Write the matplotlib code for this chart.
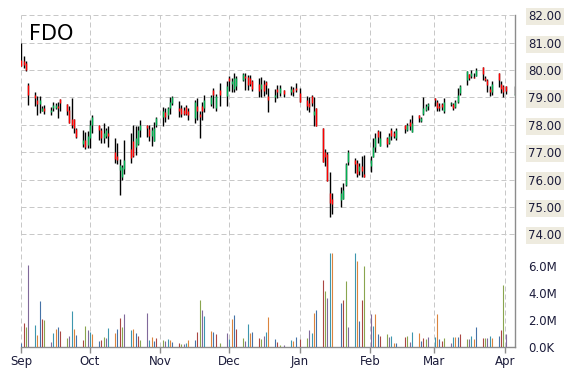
import matplotlib
matplotlib.use("Agg")
import matplotlib.pyplot as plt
import matplotlib.dates as mdates
import matplotlib.ticker as mticker
import numpy as np
import pandas as pd

# ---------------- data ----------------
symbol = "FDO"
holidays = ["2014-11-27", "2014-12-25", "2015-01-01", "2015-01-19", "2015-02-16"]
trade_dates = [d for d in pd.bdate_range("2014-09-02", "2015-04-02")
               if d.strftime("%Y-%m-%d") not in holidays] + [pd.Timestamp("2015-04-06")]

open_ = [
    # Sep
    80.37, 80.32, 80.26, 79.46, 79.10, 78.90, 78.75, 78.52, 78.60, 78.45, 78.60, 78.60, 78.70, 78.93,
    78.77, 78.55, 78.20, 78.20, 77.85, 77.30, 77.45,
    # Oct
    77.25, 77.50, 78.00, 77.98, 77.80, 77.50, 77.60, 77.70, 77.00, 76.85, 76.34, 76.10, 76.40, 77.13,
    77.40, 77.20, 77.30, 77.80, 77.99, 77.85, 77.60, 77.42, 78.00,
    # Nov
    78.30, 78.45, 78.35, 78.60, 78.80, 78.60, 78.60, 78.55, 78.65, 78.50, 78.24, 78.70, 78.40, 78.67,
    78.60, 78.75, 79.28, 78.60, 79.28,
    # Dec
    79.04, 79.70, 79.50, 79.30, 79.40, 79.65, 79.80, 79.75, 79.70, 79.60, 79.50, 79.30, 79.50, 79.55,
    79.04, 79.00, 79.30, 79.15, 79.28, 79.20, 79.30, 79.35,
    # Jan
    79.16, 78.90, 78.80, 79.04, 78.37, 78.60, 77.90, 77.02, 76.95, 75.50, 75.30, 75.26, 75.30, 75.80,
    76.65, 76.70, 76.60, 76.30, 76.50, 76.20,
    # Feb
    76.50, 76.84, 77.20, 77.76, 77.24, 77.50, 77.35, 77.80, 77.70, 77.50, 78.00, 77.82, 78.10, 77.72,
    78.37, 78.15, 78.40, 78.55, 78.70,
    # Mar
    78.98, 78.85, 78.70, 78.75, 78.50, 78.75, 78.75, 78.65, 78.85, 79.15, 79.65, 79.85, 79.80, 79.75,
    79.80, 80.10, 79.70, 79.65, 79.30, 79.20, 79.91, 79.50,
    # Apr
    79.40, 79.43, 79.10,
]
high = [
    81.00, 80.50, 80.32, 79.52, 79.18, 79.06, 79.04, 78.67, 78.73, 78.65, 78.82, 78.79, 78.82, 78.95,
    78.77, 78.70, 78.98, 78.20, 77.88, 77.82, 77.72,
    77.76, 78.18, 78.37, 78.00, 77.88, 78.06, 77.88, 77.96, 77.50, 77.34, 76.74, 76.52, 77.46, 77.70,
    77.99, 77.94, 77.95, 78.17, 77.99, 77.99, 77.93, 78.10, 78.30,
    78.66, 78.60, 78.66, 79.00, 79.05, 78.88, 78.73, 78.66, 78.74, 78.60, 78.91, 78.98, 78.49, 78.85,
    79.10, 79.10, 79.34, 79.12, 79.52,
    79.59, 79.77, 79.71, 79.89, 79.77, 79.89, 79.89, 79.83, 79.83, 79.65, 79.71, 79.74, 79.65, 79.61,
    79.34, 79.30, 79.46, 79.46, 79.28, 79.43, 79.38, 79.52,
    79.34, 79.04, 79.00, 79.10, 79.00, 78.61, 77.90, 77.11, 76.99, 76.29, 75.50, 75.74, 75.87, 76.60,
    77.09, 76.80, 76.72, 76.60, 76.85, 76.90,
    76.87, 77.51, 77.70, 77.82, 77.76, 77.57, 77.70, 77.88, 77.76, 77.90, 78.00, 78.05, 78.20, 78.37,
    78.37, 78.30, 79.01, 78.77, 78.80,
    78.98, 78.91, 78.79, 78.79, 78.98, 78.85, 78.79, 78.91, 79.34, 79.46, 79.95, 79.87, 80.01, 79.90,
    80.07, 80.10, 79.77, 79.67, 79.40, 79.59, 79.91, 79.61,
    79.46, 79.43, 79.43,
]
low = [
    80.13, 80.07, 79.98, 78.73, 78.70, 78.37, 78.43, 78.49, 78.39, 78.34, 78.49, 78.57, 78.24, 78.49,
    78.37, 78.06, 77.88, 77.70, 77.51, 77.20, 77.11,
    77.15, 77.15, 77.70, 77.45, 77.33, 77.33, 77.50, 77.20, 76.59, 76.55, 75.43, 76.00, 76.22, 76.59,
    76.83, 76.90, 77.26, 77.56, 77.56, 77.41, 77.22, 77.40, 77.93,
    77.95, 78.10, 78.20, 78.39, 78.72, 78.30, 78.30, 78.35, 78.35, 78.17, 78.06, 78.18, 77.51, 78.18,
    78.45, 78.67, 78.60, 78.49, 78.67,
    78.67, 79.22, 79.20, 79.18, 79.28, 79.59, 79.26, 79.26, 79.43, 79.22, 79.01, 79.00, 79.04, 79.13,
    78.45, 78.85, 78.98, 79.04, 79.01, 79.10, 79.04, 79.18,
    78.85, 78.55, 78.46, 78.67, 77.96, 77.94, 76.63, 76.50, 75.93, 74.65, 74.75, 75.01, 75.30, 75.77,
    76.54, 76.25, 76.10, 76.15, 76.10, 76.08,
    76.26, 76.84, 77.02, 77.33, 77.24, 77.20, 77.29, 77.45, 77.50, 77.45, 77.70, 77.78, 77.82, 77.72,
    78.09, 78.09, 78.37, 78.49, 78.55,
    78.70, 78.49, 78.49, 78.55, 78.43, 78.67, 78.55, 78.60, 78.79, 79.10, 79.46, 79.65, 79.71, 79.70,
    79.77, 79.65, 79.59, 79.18, 79.04, 79.10, 79.38, 79.16,
    79.01, 79.13, 79.10,
]
close = [
    80.13, 80.20, 80.01, 79.10, 78.98, 78.75, 78.90, 78.62, 78.50, 78.55, 78.72, 78.74, 78.60, 78.80,
    78.49, 78.06, 78.00, 77.88, 77.55, 77.45, 77.20,
    77.60, 78.00, 78.30, 77.80, 77.50, 77.70, 77.80, 77.60, 76.75, 76.70, 76.52, 76.45, 76.70, 76.77,
    76.85, 77.50, 77.80, 78.00, 77.87, 77.60, 77.80, 77.87, 78.25,
    78.50, 78.30, 78.60, 78.85, 79.00, 78.50, 78.40, 78.40, 78.40, 78.35, 78.85, 78.50, 78.30, 78.49,
    78.90, 79.00, 79.10, 79.04, 79.10,
    79.40, 79.59, 79.60, 79.70, 79.70, 79.85, 79.70, 79.45, 79.50, 79.30, 79.25, 79.50, 79.25, 79.45,
    78.92, 79.10, 79.20, 79.35, 79.13, 79.30, 79.20, 79.26,
    78.85, 78.70, 78.65, 78.80, 78.50, 77.95, 76.65, 76.84, 75.95, 75.16, 75.10, 75.50, 75.62, 76.55,
    77.00, 76.55, 76.20, 76.50, 76.30, 76.10,
    76.70, 77.20, 77.50, 77.55, 77.50, 77.30, 77.60, 77.60, 77.60, 77.80, 77.85, 77.98, 77.95, 78.06,
    78.25, 78.25, 78.60, 78.70, 78.75,
    78.90, 78.60, 78.60, 78.65, 78.85, 78.80, 78.60, 78.85, 79.10, 79.40, 79.95, 79.70, 79.90, 79.72,
    80.00, 79.85, 79.65, 79.45, 79.20, 79.50, 79.65, 79.30,
    79.20, 79.25, 79.12,
]
volume_m = [
    0.30, 1.75, 1.46, 6.07, 1.63, 0.89, 3.40, 2.07, 2.00, 0.40, 1.06, 1.31, 1.46, 1.21, 0.69, 0.81,
    2.69, 1.33, 0.89, 0.52, 1.56,
    1.26, 1.09, 0.96, 0.44, 0.52, 0.72, 0.67, 1.38, 1.01, 1.33, 2.12, 1.46, 2.44, 1.26, 1.31, 1.01,
    0.84, 0.52, 2.54, 0.52, 0.72, 0.47, 0.64,
    0.52, 0.47, 0.57, 0.52, 0.40, 0.30, 0.22, 0.22, 0.32, 0.52, 0.52, 1.14, 3.48, 2.74, 2.30, 1.21,
    1.11, 0.96, 0.32,
    1.01, 0.60, 2.07, 2.37, 1.33, 0.64, 0.44, 1.70, 1.06, 1.11, 0.64, 0.60, 0.81, 1.11, 2.22, 0.60,
    0.37, 0.15, 0.15, 0.52, 0.44, 0.72,
    0.60, 0.69, 1.26, 1.06, 2.54, 2.74, 4.96, 4.17, 3.63, 6.99, 6.99, 3.28, 3.48, 4.89, 1.51, 6.99,
    6.40, 1.95, 3.48, 6.00,
    2.44, 1.56, 2.44, 0.96, 0.81, 0.96, 0.77, 0.81, 0.32, 0.32, 0.77, 0.81, 0.40, 1.14, 1.06, 0.44,
    0.69, 0.62, 0.77,
    0.77, 2.44, 0.57, 0.47, 0.69, 0.32, 0.77, 0.77, 0.77, 0.96, 0.62, 0.62, 0.81, 0.62, 1.46, 0.69,
    0.69, 0.69, 0.81, 0.69, 0.81, 1.26,
    4.59, 0.96, 0.10,
]
price_ticks = [74, 75, 76, 77, 78, 79, 80, 81, 82]
volume_ticks = [0, 2, 4, 6]

# ---------------- styling ----------------
palette = ["#4572A7", "#AA4643", "#89A54E", "#80699B", "#3D96AE", "#DB843D"]
up_color, down_color = "#00b050", "#ff0000"
text_color = "#1b1b3a"
grid_color = "#c8c8c8"
axis_color = "#8c8c8c"

W, H = 570, 370
fig = plt.figure(figsize=(W / 100, H / 100), dpi=100)
fig.patch.set_facecolor("white")
left_px, right_px, top_px, bottom_px = 21, 515, 15.3, 347
ax = fig.add_axes([left_px / W, 1 - bottom_px / H, (right_px - left_px) / W, (bottom_px - top_px) / H])

o = np.array(open_); h = np.array(high); l = np.array(low); c = np.array(close)
v = np.array(volume_m)
# timestamps are plotted shifted back (exchange-local offset)
x = mdates.date2num(pd.DatetimeIndex(trade_dates)) - 0.8

px_per_dollar = 27.375
ax.set_ylim(82 - (bottom_px - top_px) / px_per_dollar, 82)
xlim = (mdates.date2num(pd.Timestamp("2014-09-01")), mdates.date2num(pd.Timestamp("2015-04-05")) + 0.3)
ax.set_xlim(xlim)

# OHLC bars
bar_lw = 1.0
ax.vlines(x, l, h, colors="black", lw=bar_lw, zorder=3)
up = c >= o
ax.vlines(x[up], o[up], c[up], colors=up_color, lw=bar_lw, zorder=4)
ax.vlines(x[~up], o[~up], c[~up], colors=down_color, lw=bar_lw, zorder=4)

# volume on an overlaid axis
ax2 = ax.twinx()
ax2.set_ylim(0, 24.6)
ax2.vlines(x, 0, v, colors=[palette[i % len(palette)] for i in range(len(v))], lw=0.8, zorder=3)
ax2.set_yticks(volume_ticks)
ax2.yaxis.set_major_formatter(mticker.FuncFormatter(lambda val, pos: "0.0K" if val == 0 else f"{val:.1f}M"))
ax2.tick_params(axis="y", length=0, pad=9.4, labelsize=8.5, labelcolor=text_color)
for s in ax2.spines.values():
    s.set_visible(False)
ax2.set_xlim(xlim)

# price axis styling (after twinx, which moves ticks to the left)
ax.xaxis.set_major_locator(mdates.MonthLocator())
ax.xaxis.set_major_formatter(mdates.DateFormatter("%b"))
ax.set_yticks(price_ticks)
ax.yaxis.set_major_formatter(mticker.FormatStrFormatter("%.2f"))
ax.yaxis.tick_right()
ax.tick_params(axis="y", left=False, labelleft=False, right=True, labelright=True,
               length=0, pad=9.4, labelsize=8.5, labelcolor=text_color)
ax.grid(True, color=grid_color, lw=0.72, linestyle=(0, (5, 3)), zorder=0)
ax.set_axisbelow(True)
for s in ["top", "left"]:
    ax.spines[s].set_visible(False)
for s in ["right", "bottom"]:
    ax.spines[s].set_color(axis_color)
    ax.spines[s].set_linewidth(1.0)
ax.tick_params(axis="x", colors=axis_color, length=4, width=1, labelcolor=text_color,
               labelsize=8.5, pad=1.5)

fig.canvas.draw()
for t in ax.yaxis.get_major_ticks():
    t.label2.set_bbox(dict(boxstyle="square,pad=0.18", fc="#eeebdf", ec="none"))

fig.text(29 / W, 1 - 40 / H, symbol, fontsize=15, color="black", va="baseline", ha="left")

fig.savefig("out.png", dpi=100, facecolor="white")
